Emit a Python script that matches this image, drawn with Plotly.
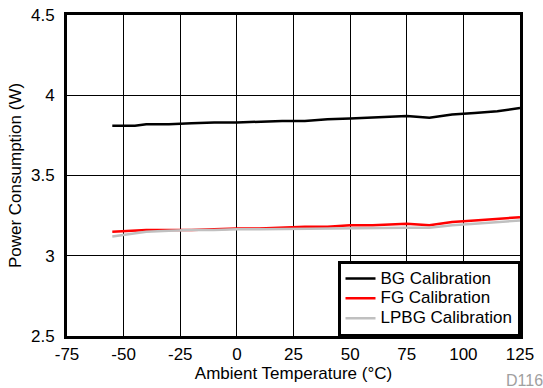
import plotly.graph_objects as go

temps = [-55, -45, -40, -30, -20, -10, 0, 10, 20, 30, 40, 50, 60, 70, 75, 85, 95, 105, 115, 125]
bg = [3.81, 3.81, 3.82, 3.82, 3.825, 3.83, 3.83, 3.835, 3.84, 3.84, 3.85, 3.855, 3.86, 3.865, 3.87, 3.86, 3.88, 3.89, 3.90, 3.92]
fg = [3.15, 3.155, 3.16, 3.16, 3.16, 3.165, 3.17, 3.17, 3.175, 3.18, 3.18, 3.19, 3.19, 3.195, 3.20, 3.19, 3.21, 3.22, 3.23, 3.24]
lpbg = [3.12, 3.14, 3.15, 3.155, 3.16, 3.16, 3.165, 3.165, 3.167, 3.17, 3.17, 3.172, 3.175, 3.175, 3.175, 3.175, 3.19, 3.20, 3.21, 3.22]
series_names = ["BG Calibration", "FG Calibration", "LPBG Calibration"]
x_ticks = [-75, -50, -25, 0, 25, 50, 75, 100, 125]
y_ticks = [2.5, 3, 3.5, 4, 4.5]

font = "Liberation Sans, Arial, sans-serif"
fig = go.Figure()
for name, vals, col in zip(series_names, [bg, fg, lpbg], ["#000000", "#ff0000", "#c0c0c0"]):
    fig.add_trace(go.Scatter(x=temps, y=vals, mode="lines",
                             name=f"<span style='font-size:17px'>{name}</span>",
                             line=dict(color=col, width=2.5)))

fig.update_layout(
    width=543, height=388,
    margin=dict(l=67, r=23, t=15, b=52, autoexpand=False),
    paper_bgcolor="white", plot_bgcolor="white",
    font=dict(family=font, size=17, color="black"),
    showlegend=True,
    legend=dict(x=1, y=0, xanchor="right", yanchor="bottom",
                bordercolor="black", borderwidth=2.5, bgcolor="white",
                font=dict(size=13), tracegroupgap=0, itemwidth=30),
    annotations=[dict(text="D116", x=1, y=0, xref="paper", yref="paper",
                      xanchor="left", yanchor="middle", xshift=-16, yshift=-44,
                      showarrow=False, font=dict(size=16, color="#a0a0a0"))],
)
fig.update_xaxes(range=[-75, 125], tickvals=x_ticks, ticktext=[str(t) for t in x_ticks],
                 showgrid=True, gridcolor="black", gridwidth=1,
                 showline=True, linecolor="black", linewidth=3, mirror=True,
                 zeroline=False, ticks="", ticklabelstandoff=1, automargin=False,
                 title=dict(text="Ambient Temperature (°C)", standoff=0, font=dict(size=17)))
fig.update_yaxes(range=[2.5, 4.5], tickvals=y_ticks, ticktext=["2.5", "3", "3.5", "4", "4.5"],
                 showgrid=True, gridcolor="black", gridwidth=1,
                 showline=True, linecolor="black", linewidth=3, mirror=True,
                 zeroline=False, ticks="", ticklabelstandoff=6, automargin=False,
                 title=dict(text="Power Consumption (W)", standoff=6, font=dict(size=17)))

fig.write_html("out.html", config={"displayModeBar": False},
               post_script="document.body.style.margin='0';")
